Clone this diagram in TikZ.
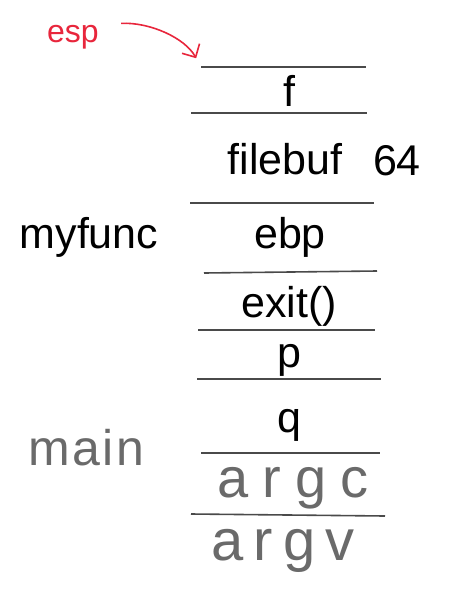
\documentclass[tikz,border=0pt]{standalone}
\usepackage{fontspec}
\setmainfont{Liberation Sans}
\newfontfamily\handfont{Liberation Sans}
\usetikzlibrary{arrows.meta}
\definecolor{EspRed}{HTML}{E8263C}
\definecolor{PenGray}{HTML}{6A6A6A}
\definecolor{RuleGray}{HTML}{4A4A4A}

\begin{document}
\begin{tikzpicture}[x=0.5pt,y=-0.5pt,
  slot/.style={RuleGray,line width=0.8pt},
  typed/.style={font=\fontsize{21.5}{26}\selectfont,anchor=base,inner sep=0pt},
  hand/.style={PenGray,anchor=base,inner sep=0pt}]
  \useasboundingbox (0,0) rectangle (450,616);
  % stack slots
  \draw[slot] (201,67) -- (366,67);
  \draw[slot] (191,113) -- (367,113);
  \draw[slot] (190,203) -- (374,203);
  \draw[slot] (204,273) -- (377,271);
  \draw[slot] (198,330) -- (375,330);
  \draw[slot] (197,379) -- (381,379);
  \draw[slot] (201,453) -- (380,453);
  \draw[slot] (191,514) -- (385,516);
  \coordinate (stackTop) at (201,67);
  % typed entries
  \node[typed] (f) at (289,106) {f};
  \node[typed] (filebuf) at (285,174) {filebuf};
  \node[typed] (size) at (397,175) {64};
  \node[typed] (myfunc) at (89,248) {myfunc};
  \node[typed] (ebp) at (290,248) {ebp};
  \node[typed] (exit) at (289,317) {exit()};
  \node[typed] (p) at (289,367) {p};
  \node[typed] (q) at (289,432) {q};
  % handwritten notes
  \node[hand,font=\handfont\fontsize{25}{30}\selectfont\addfontfeatures{LetterSpace=5}] (main) at (86,465) {main};
  \node[hand,font=\handfont\fontsize{28}{32}\selectfont\addfontfeatures{LetterSpace=25}] (argc) at (293,497) {argc};
  \node[hand,font=\handfont\fontsize{29}{33}\selectfont\addfontfeatures{LetterSpace=17}] (argv) at (283,560) {argv};
  \node[hand,EspRed,font=\handfont\fontsize{16}{19}\selectfont] (esp) at (73,42) {esp};
  \draw[EspRed,line width=0.8pt,-{Straight Barb[length=5pt,width=10pt]},shorten <=11pt,shorten >=5pt]
    (esp.north east) .. controls (150,22) and (185,38) .. (stackTop);
\end{tikzpicture}
\end{document}
